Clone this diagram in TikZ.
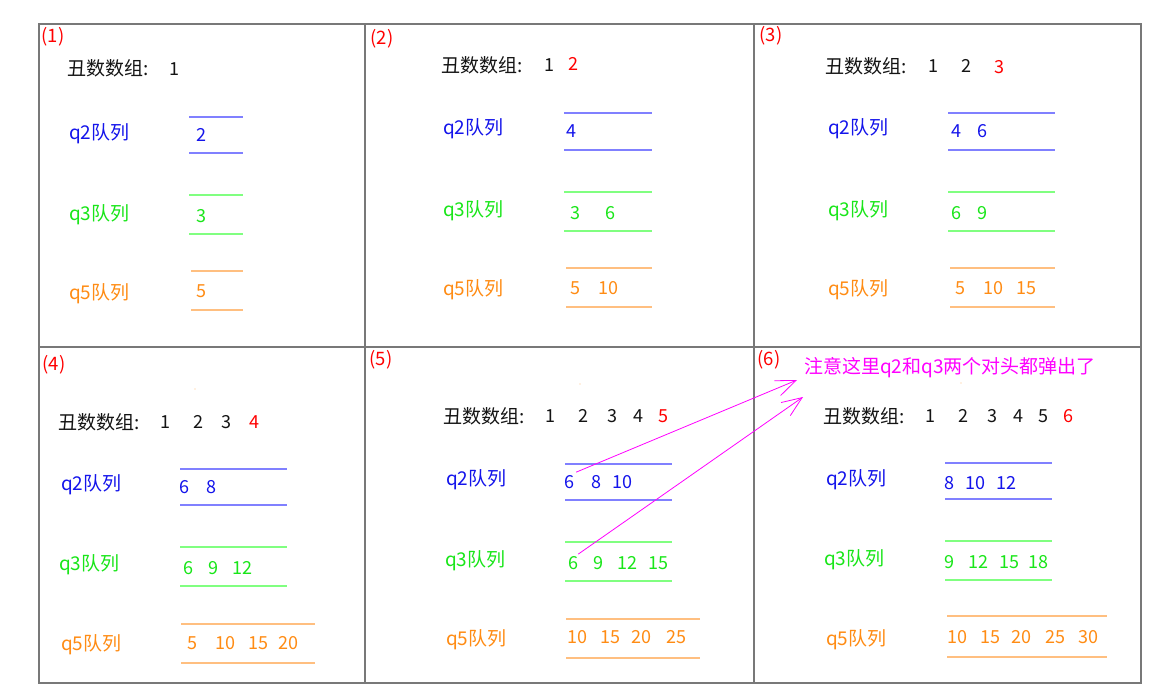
\documentclass[tikz,border=0pt]{standalone}
\usepackage{fontspec}
\setmainfont{Noto Sans CJK SC}
\usetikzlibrary{arrows.meta}
\definecolor{gridgray}{RGB}{120,120,120}
\definecolor{tblack}{RGB}{20,20,20}
\definecolor{tred}{RGB}{255,0,0}
\definecolor{tblue}{RGB}{20,20,235}
\definecolor{tgreen}{RGB}{25,230,25}
\definecolor{torange}{RGB}{255,140,20}
\definecolor{lblue}{RGB}{128,128,255}
\definecolor{lgreen}{RGB}{128,255,128}
\definecolor{lorange}{RGB}{255,191,128}
\definecolor{tmag}{RGB}{255,0,255}
\newcommand\myqueue[5]{\draw[#1] (#2,#4) -- (#3,#4); \draw[#1] (#2,#5) -- (#3,#5);}
\begin{document}
\begin{tikzpicture}[x=1pt,y=-1pt,
  gridline/.style={draw=gridgray, line width=2.5pt},
  lab/.style={inner sep=0, anchor=west, font=\fontsize{19}{21}\selectfont},
  num/.style={inner sep=0, anchor=center, font=\fontsize{18}{20}\selectfont},
  pnum/.style={inner sep=0, anchor=center, text=tred, font=\fontsize{18.5}{20}\selectfont},
  note/.style={inner sep=0, anchor=west, text=tmag, font=\fontsize{19}{21}\selectfont},
  qb/.style={draw=lblue, line width=2pt},
  qg/.style={draw=lgreen, line width=2pt},
  qo/.style={draw=lorange, line width=2pt},
  arr/.style={draw=tmag, line width=0.8pt, -{Straight Barb[length=20pt,width=16pt]}},
  speck/.style={fill=lorange, draw=none}]
\useasboundingbox (0,0) rectangle (1157,698);
\fill[white] (0,0) rectangle (1157,698);

% grid
\draw[gridline] (39,24) rectangle (1141,683);
\draw[gridline] (39,347) -- (1141,347);
\draw[gridline] (365,24) -- (365,683);
\draw[gridline] (754,24) -- (754,683);

% ---------- panel 1 ----------
\node[pnum] (p1) at (53,37) {(1)};
\node[lab,text=tblack] (p1arr) at (67,68) {丑数数组:};
\node[num,text=tblack] (p1a1) at (174,69) {1};
\node[lab,text=tblue] (p1q2) at (69,134) {q2队列};
\myqueue{qb}{189}{243}{117}{153}
\node[num,text=tblue] (p1q2n1) at (201,135) {2};
\node[lab,text=tgreen] (p1q3) at (69,215) {q3队列};
\myqueue{qg}{189}{243}{195}{234}
\node[num,text=tgreen] (p1q3n1) at (201,216) {3};
\node[lab,text=torange] (p1q5) at (69,294) {q5队列};
\myqueue{qo}{191}{243}{271}{310}
\node[num,text=torange] (p1q5n1) at (201,291) {5};

% ---------- panel 2 ----------
\node[pnum] (p2) at (382,39) {(2)};
\node[lab,text=tblack] (p2arr) at (441,65) {丑数数组:};
\node[num,text=tblack] (p2a1) at (549,65) {1};
\node[num,text=tred] (p2a2) at (573,64) {2};
\node[lab,text=tblue] (p2q2) at (443,129) {q2队列};
\myqueue{qb}{564}{652}{113}{150}
\node[num,text=tblue] (p2q2n1) at (571,131) {4};
\node[lab,text=tgreen] (p2q3) at (443,211) {q3队列};
\myqueue{qg}{564}{652}{192}{231}
\foreach \x/\t [count=\i] in {575/3,610/6}
  \node[num,text=tgreen] (p2q3n\i) at (\x,213) {\t};
\node[lab,text=torange] (p2q5) at (443,290) {q5队列};
\myqueue{qo}{566}{652}{268}{307}
\foreach \x/\t [count=\i] in {575/5,608/10}
  \node[num,text=torange] (p2q5n\i) at (\x,288) {\t};

% ---------- panel 3 ----------
\node[pnum] (p3) at (771,36) {(3)};
\node[lab,text=tblack] (p3arr) at (825,66) {丑数数组:};
\foreach \x/\t [count=\i] in {933/1,966/2}
  \node[num,text=tblack] (p3a\i) at (\x,66) {\t};
\node[num,text=tred] (p3a3) at (999,67) {3};
\node[lab,text=tblue] (p3q2) at (828,129) {q2队列};
\myqueue{qb}{948}{1055}{113}{150}
\foreach \x/\t [count=\i] in {956/4,982/6}
  \node[num,text=tblue] (p3q2n\i) at (\x,131) {\t};
\node[lab,text=tgreen] (p3q3) at (828,211) {q3队列};
\myqueue{qg}{948}{1055}{192}{231}
\foreach \x/\t [count=\i] in {956/6,982/9}
  \node[num,text=tgreen] (p3q3n\i) at (\x,213) {\t};
\node[lab,text=torange] (p3q5) at (828,290) {q5队列};
\myqueue{qo}{950}{1055}{268}{307}
\foreach \x/\t [count=\i] in {960/5,993/10,1026/15}
  \node[num,text=torange] (p3q5n\i) at (\x,288) {\t};

% ---------- panel 4 ----------
\node[pnum] (p4) at (54,365) {(4)};
\fill[speck] (195,389) circle (0.7);
\node[lab,text=tblack] (p4arr) at (58,422) {丑数数组:};
\foreach \x/\t [count=\i] in {165/1,198/2,226/3}
  \node[num,text=tblack] (p4a\i) at (\x,422) {\t};
\node[num,text=tred] (p4a4) at (254,422) {4};
\node[lab,text=tblue] (p4q2) at (61,485) {q2队列};
\myqueue{qb}{180}{287}{469}{505}
\foreach \x/\t [count=\i] in {184/6,211/8}
  \node[num,text=tblue] (p4q2n\i) at (\x,487) {\t};
\node[lab,text=tgreen] (p4q3) at (59,565) {q3队列};
\myqueue{qg}{180}{287}{547}{586}
\foreach \x/\t [count=\i] in {188/6,213/9,242/12}
  \node[num,text=tgreen] (p4q3n\i) at (\x,568) {\t};
\node[lab,text=torange] (p4q5) at (61,645) {q5队列};
\myqueue{qo}{181}{315}{624}{663}
\foreach \x/\t [count=\i] in {192/5,225/10,258/15,288/20}
  \node[num,text=torange] (p4q5n\i) at (\x,643) {\t};

% ---------- panel 5 ----------
\node[pnum] (p5) at (381,360) {(5)};
\fill[speck] (580,384) circle (0.7);
\node[lab,text=tblack] (p5arr) at (443,416) {丑数数组:};
\foreach \x/\t [count=\i] in {550/1,583/2,612/3,638/4}
  \node[num,text=tblack] (p5a\i) at (\x,416) {\t};
\node[num,text=tred] (p5a5) at (663,416) {5};
\node[lab,text=tblue] (p5q2) at (446,480) {q2队列};
\myqueue{qb}{565}{672}{464}{500}
\foreach \x/\t [count=\i] in {569/6,596/8,622/10}
  \node[num,text=tblue] (p5q2n\i) at (\x,482) {\t};
\node[lab,text=tgreen] (p5q3) at (445,561) {q3队列};
\myqueue{qg}{565}{672}{542}{581}
\foreach \x/\t [count=\i] in {573/6,598/9,627/12,658/15}
  \node[num,text=tgreen] (p5q3n\i) at (\x,563) {\t};
\node[lab,text=torange] (p5q5) at (446,640) {q5队列};
\myqueue{qo}{566}{700}{619}{658}
\foreach \x/\t [count=\i] in {577/10,610/15,641/20,676/25}
  \node[num,text=torange] (p5q5n\i) at (\x,637) {\t};

% ---------- panel 6 ----------
\node[pnum] (p6) at (769,360) {(6)};
\node[note] (p6note) at (804,368) {注意这里q2和q3两个对头都弹出了};
\fill[speck] (961,383) circle (0.7);
\node[lab,text=tblack] (p6arr) at (823,416) {丑数数组:};
\foreach \x/\t [count=\i] in {930/1,963/2,992/3,1018/4,1043/5}
  \node[num,text=tblack] (p6a\i) at (\x,416) {\t};
\node[num,text=tred] (p6a6) at (1068,416) {6};
\node[lab,text=tblue] (p6q2) at (826,480) {q2队列};
\myqueue{qb}{945}{1052}{463}{499}
\foreach \x/\t [count=\i] in {949.5/8,975/10,1006/12}
  \node[num,text=tblue] (p6q2n\i) at (\x,483) {\t};
\node[lab,text=tgreen] (p6q3) at (824,560) {q3队列};
\myqueue{qg}{945}{1052}{541}{580}
\foreach \x/\t [count=\i] in {949.5/9,978/12,1009/15,1038/18}
  \node[num,text=tgreen] (p6q3n\i) at (\x,562) {\t};
\node[lab,text=torange] (p6q5) at (826,640) {q5队列};
\myqueue{qo}{947}{1107}{616}{657}
\foreach \x/\t [count=\i] in {957/10,990/15,1021/20,1055.5/25,1088.5/30}
  \node[num,text=torange] (p6q5n\i) at (\x,637) {\t};

% arrows
\coordinate (tip1) at (797,380);
\coordinate (tip2) at (803,397);
\draw[arr] ([shift={(2,-3)}]p5q2n1.north east) -- (tip1);
\draw[arr] ([shift={(0,-2)}]p5q3n1.north east) -- (tip2);
\end{tikzpicture}
\end{document}
